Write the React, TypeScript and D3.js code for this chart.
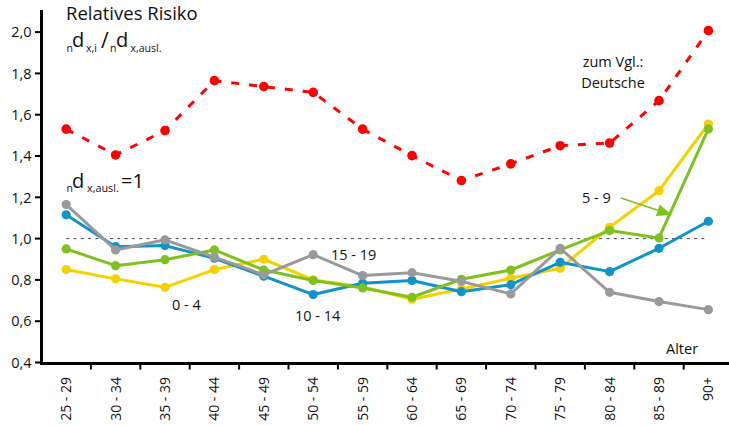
import React from "react";
import * as d3 from "d3";

const categories = ["25 - 29","30 - 34","35 - 39","40 - 44","45 - 49","50 - 54","55 - 59","60 - 64","65 - 69","70 - 74","75 - 79","80 - 84","85 - 89","90+"];
const deutsche = [1.53, 1.405, 1.523, 1.765, 1.736, 1.708, 1.53, 1.402, 1.281, 1.362, 1.45, 1.463, 1.668, 2.007];
const age0to4 = [0.85, 0.805, 0.764, 0.85, 0.9, 0.8, 0.767, 0.706, 0.756, 0.808, 0.856, 1.055, 1.232, 1.555];
const age5to9 = [0.95, 0.869, 0.898, 0.945, 0.848, 0.797, 0.761, 0.716, 0.803, 0.848, 0.945, 1.039, 1.003, 1.531];
const age10to14 = [1.115, 0.961, 0.966, 0.905, 0.818, 0.729, 0.784, 0.797, 0.743, 0.777, 0.885, 0.84, 0.953, 1.084];
const age15to19 = [1.165, 0.945, 0.994, 0.91, 0.825, 0.922, 0.821, 0.835, 0.793, 0.732, 0.953, 0.74, 0.695, 0.656];
const yTicks = [0.4, 0.6, 0.8, 1.0, 1.2, 1.4, 1.6, 1.8, 2.0];

const W = 729, H = 426;
const FONT = "'Open Sans', 'Noto Sans', sans-serif";
const RED = "#ff0000", YELLOW = "#f6d100", GREEN = "#7dc21e", BLUE = "#0f93c8", GRAY = "#9a9a9a";

export default function App() {
  const x = d3.scaleBand<string>().domain(categories).range([41.5, 41.5 + 14 * 49.4]);
  const bw = x.bandwidth();
  const cx = (c: string) => (x(c) as number) + bw / 2;
  const y = d3.scaleLinear().domain([0.4, 2.1]).range([362.5, 362.5 - 1.7 * 206.5]);
  const line = d3.line<number>().x((_, i) => cx(categories[i])).y((v) => y(v));

  const series = [
    { vals: age0to4, color: YELLOW },
    { vals: age10to14, color: BLUE },
    { vals: age5to9, color: GREEN },
    { vals: age15to19, color: GRAY },
  ];

  const fmt = (v: number) => v.toFixed(1).replace(".", ",");
  const boundaries = categories.slice(1).map((c) => x(c) as number);

  // arrow
  const tip = [672, 215], start = [621, 198];
  const dx = tip[0] - start[0], dy = tip[1] - start[1];
  const len = Math.hypot(dx, dy);
  const ux = dx / len, uy = dy / len;
  const hl = 15, hw = 6;
  const bx = tip[0] - ux * hl, by = tip[1] - uy * hl;
  const head = `${tip[0]},${tip[1]} ${bx - uy * hw},${by + ux * hw} ${bx + uy * hw},${by - ux * hw}`;

  return (
    <svg width={W} height={H} style={{ position: "absolute", left: 0, top: 0, background: "#fff" }} fontFamily={FONT}>
      {/* reference line at 1.0 */}
      <line x1={cx(categories[0])} x2={cx(categories[13])} y1={y(1)} y2={y(1)} stroke="#444" strokeWidth={1} strokeDasharray="3 4.3" />

      {/* red dashed Deutsche */}
      <path d={line(deutsche) || ""} fill="none" stroke={RED} strokeWidth={3} strokeDasharray="8 10" />
      {deutsche.map((v, i) => (
        <circle key={"r" + i} cx={cx(categories[i])} cy={y(v)} r={4.8} fill={RED} />
      ))}

      {series.map((s, si) => (
        <g key={si}>
          <path d={line(s.vals) || ""} fill="none" stroke={s.color} strokeWidth={3} strokeLinejoin="round" />
          {s.vals.map((v, i) => (
            <circle key={i} cx={cx(categories[i])} cy={y(v)} r={4.6} fill={s.color} />
          ))}
        </g>
      ))}

      {/* axes */}
      <line x1={41.5} x2={41.5} y1={10} y2={364.5} stroke="#000" strokeWidth={3} />
      <line x1={40} x2={W} y1={363.5} y2={363.5} stroke="#000" strokeWidth={3} />
      {yTicks.map((t) => (
        <g key={t}>
          <line x1={35} x2={41.5} y1={y(t)} y2={y(t)} stroke="#000" strokeWidth={2} />
          <text x={31.5} y={y(t)} dy="0.36em" textAnchor="end" fontSize={14.5} fill="#111">{fmt(t)}</text>
        </g>
      ))}
      {boundaries.map((b, i) => (
        <line key={i} x1={b} x2={b} y1={363} y2={369.5} stroke="#000" strokeWidth={2} />
      ))}
      {categories.map((c) => (
        <text key={c} transform={`translate(${cx(c)},377) rotate(-90)`} dy="0.36em" textAnchor="end" fontSize={14} fill="#111">{c}</text>
      ))}

      {/* annotations */}
      <text x={66} y={20} fontSize={18.5} fill="#111">Relatives Risiko</text>
      <g fill="#111">
        <text x={66.5} y={52.3} fontSize={10.5}>n</text>
        <text x={72} y={46.7} fontSize={20}>d</text>
        <text x={86} y={52.3} fontSize={10.5}>x,i</text>
        <text x={101} y={48} fontSize={21}>/</text>
        <text x={110} y={52.3} fontSize={10.5}>n</text>
        <text x={116} y={46.7} fontSize={20}>d</text>
        <text x={130.5} y={52.3} fontSize={10.5}>x,ausl.</text>

        <text x={66.5} y={192.3} fontSize={10.5}>n</text>
        <text x={72} y={188.3} fontSize={20}>d</text>
        <text x={87} y={192.3} fontSize={10.8}>x,ausl.</text>
        <text x={121} y={188.3} fontSize={20}>=1</text>
      </g>
      <text x={613} y={66.5} textAnchor="middle" fontSize={14.5} fill="#111">zum Vgl.:</text>
      <text x={613} y={88} textAnchor="middle" fontSize={14.5} fill="#111">Deutsche</text>
      <text x={172} y={310} fontSize={14.5} fill="#111">0 - 4</text>
      <text x={331} y={260} fontSize={14.5} fill="#111">15 - 19</text>
      <text x={295} y={321} fontSize={14.5} fill="#111">10 - 14</text>
      <text x={582} y={203} fontSize={14.5} fill="#111">5 - 9</text>
      <text x={666} y={354} fontSize={14.5} fill="#111">Alter</text>

      <line x1={start[0]} y1={start[1]} x2={bx} y2={by} stroke={GREEN} strokeWidth={1.5} />
      <polygon points={head} fill={GREEN} />
    </svg>
  );
}
